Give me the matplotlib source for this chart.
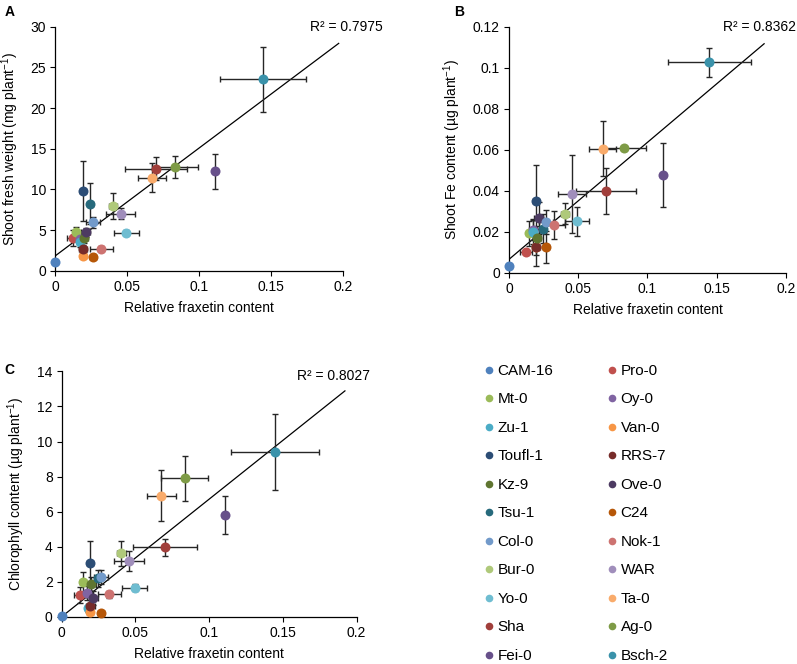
"""
plot.py — fraxetin content vs shoot growth / Fe / chlorophyll across accessions.

Three scatter panels (A, B, C) with x/y error bars and a linear trendline,
plus a shared two-column legend in the lower-right corner.
"""

import matplotlib
matplotlib.use('Agg')
import matplotlib.pyplot as plt
from matplotlib.lines import Line2D

plt.rcParams['font.family'] = ['Liberation Sans', 'DejaVu Sans']
plt.rcParams['mathtext.fontset'] = 'custom'
plt.rcParams['mathtext.rm'] = 'Liberation Sans'
plt.rcParams['mathtext.it'] = 'Liberation Sans:italic'

# ── Data ──────────────────────────────────────────────────────────────────────

accessions = ['CAM-16', 'Pro-0', 'Mt-0', 'Oy-0', 'Zu-1', 'Van-0',
              'Toufl-1', 'RRS-7', 'Kz-9', 'Ove-0', 'Tsu-1', 'C24',
              'Col-0', 'Nok-1', 'Bur-0', 'WAR', 'Yo-0', 'Ta-0',
              'Sha', 'Ag-0', 'Fei-0', 'Bsch-2']

colours = ['#4F81BD', '#C0504D', '#9BBB59', '#8064A2', '#4BACC6', '#F79646',
           '#2C4D75', '#772C2A', '#5F7530', '#4D3B62', '#276A7C', '#B65708',
           '#729ACA', '#CD7371', '#AFC97A', '#A08EBB', '#6FBDD1', '#F9AB6B',
           '#A13F3B', '#7E9B46', '#67508A', '#3A92AA']

# relative fraxetin content (shared x)
fraxetin     = [0.0, 0.0123, 0.0147, 0.0175, 0.0177, 0.0193,
                0.0193, 0.0194, 0.0201, 0.0214, 0.0246, 0.0266,
                0.0266, 0.0323, 0.0403, 0.0456, 0.0494, 0.0676,
                0.0701, 0.0834, 0.1110, 0.1447]
fraxetin_err = [0.0, 0.004, 0.002, 0.003, 0.002, 0.002,
                0.002, 0.003, 0.003, 0.003, 0.002, 0.002,
                0.005, 0.008, 0.003, 0.0099, 0.0087, 0.0097,
                0.0216, 0.0158, 0.001, 0.030]

# A — shoot fresh weight (mg plant-1)
fresh_weight     = [1.1, 4.0, 4.7, 3.9, 3.5, 1.85,
                    9.8, 2.7, 4.05, 4.7, 8.25, 1.72,
                    5.95, 2.7, 8.0, 7.0, 4.65, 11.45,
                    12.55, 12.7, 12.2, 23.55]
fresh_weight_err = [0.2, 1.0, 0.7, 0.5, 0.6, 0.3,
                    3.7, 0.5, 0.6, 0.6, 2.5, 0.3,
                    0.7, 0.3, 1.6, 0.7, 0.3, 1.8,
                    1.4, 1.35, 2.2, 4.0]

# B — shoot Fe content (µg plant-1)
fe_content     = [0.0034, 0.0099, 0.0192, 0.0208, 0.0200, 0.0125,
                  0.0348, 0.0124, 0.0169, 0.0267, 0.0215, 0.0124,
                  0.0247, 0.0231, 0.0288, 0.0385, 0.0250, 0.0605,
                  0.0400, 0.0610, 0.0476, 0.1026]
fe_content_err = [0.0005, 0.001, 0.006, 0.005, 0.006, 0.004,
                  0.0177, 0.009, 0.006, 0.008, 0.007, 0.0078,
                  0.006, 0.0068, 0.005, 0.019, 0.0072, 0.0133,
                  0.0112, 0.001, 0.0155, 0.0072]

# C — chlorophyll content (µg plant-1)
chlorophyll     = [0.05, 1.24, 1.96, 1.33, 0.48, 0.29,
                   3.04, 0.63, 1.85, 1.05, 2.19, 0.19,
                   2.28, 1.27, 3.61, 3.2, 1.65, 6.9,
                   3.96, 7.9, 5.8, 9.42]
chlorophyll_err = [0.05, 0.45, 0.6, 0.4, 0.2, 0.15,
                   1.3, 0.3, 0.4, 0.4, 0.5, 0.1,
                   0.4, 0.2, 0.7, 0.57, 0.2, 1.45,
                   0.5, 1.27, 1.1, 2.16]

# trendlines: (slope, intercept, x_end), R² label
trend_a = (132.6, 1.8, 0.1972)
trend_b = (0.571, 0.0065, 0.1842)
trend_c = (67.1, 0.0, 0.1921)
r2_labels = ['R² = 0.7975', 'R² = 0.8362', 'R² = 0.8027']

x_ticks = [0, 0.05, 0.1, 0.15, 0.2]
y_ticks_a = [0, 5, 10, 15, 20, 25, 30]
y_ticks_b = [0, 0.02, 0.04, 0.06, 0.08, 0.1, 0.12]
y_ticks_c = [0, 2, 4, 6, 8, 10, 12, 14]

# legend order (two columns, row-major in the original)
legend_left  = accessions[0::2]
legend_right = accessions[1::2]


# ── Panel drawing ─────────────────────────────────────────────────────────────

def draw_panel(ax, y, yerr, trend, r2, r2_pos, yticks, ylabel):
    slope, icpt, x_end = trend
    ax.plot([0, x_end], [icpt, icpt + slope * x_end],
            color='black', linewidth=0.9, zorder=1.5)

    for xi, xe, yi, ye in zip(fraxetin, fraxetin_err, y, yerr):
        ax.errorbar(xi, yi, xerr=xe if xe > 0 else None, yerr=ye,
                    fmt='none', ecolor='#262626', elinewidth=1.0,
                    capsize=2.5, capthick=1.0, zorder=2)
    for xi, yi, c in zip(fraxetin, y, colours):
        ax.plot(xi, yi, 'o', color=c, markersize=7.2, markeredgewidth=0,
                zorder=3, clip_on=False)

    ax.text(r2_pos[0], r2_pos[1], r2, transform=ax.transAxes,
            ha='right', va='center', fontsize=10)

    ax.set_xlim(0, 0.2)
    ax.set_ylim(yticks[0], yticks[-1])
    ax.set_xticks(x_ticks)
    ax.set_xticklabels([f'{t:g}' for t in x_ticks])
    ax.set_yticks(yticks)
    ax.set_yticklabels([f'{t:g}' for t in yticks])
    ax.tick_params(direction='out', length=3.5, width=0.8, labelsize=10,
                   color='black', pad=3)
    ax.spines['top'].set_visible(False)
    ax.spines['right'].set_visible(False)
    for s in ('left', 'bottom'):
        ax.spines[s].set_linewidth(0.9)
    ax.set_xlabel('Relative fraxetin content', fontsize=10, labelpad=5)
    ax.set_ylabel(ylabel, fontsize=10, labelpad=7)


# ── Main ──────────────────────────────────────────────────────────────────────

fig = plt.figure(figsize=(7.97, 6.64), dpi=100)

ax_a = fig.add_axes([0.069, 0.5923, 0.361, 0.3675])
ax_b = fig.add_axes([0.6386, 0.5893, 0.3476, 0.3705])
ax_c = fig.add_axes([0.0774, 0.0712, 0.370, 0.3694])

draw_panel(ax_a, fresh_weight, fresh_weight_err, trend_a, r2_labels[0],
           (1.139, 1.0), y_ticks_a, r'Shoot fresh weight (mg plant$^{-1}$)')
draw_panel(ax_b, fe_content, fe_content_err, trend_b, r2_labels[1],
           (1.036, 1.0), y_ticks_b, r'Shoot Fe content (µg plant$^{-1}$)')
draw_panel(ax_c, chlorophyll, chlorophyll_err, trend_c, r2_labels[2],
           (1.045, 0.981), y_ticks_c, r'Chlorophyll content (µg plant$^{-1}$)')

fig.text(0.006, 0.992, 'A', fontsize=10, fontweight='bold', va='top')
fig.text(0.570, 0.992, 'B', fontsize=10, fontweight='bold', va='top')
fig.text(0.006, 0.453, 'C', fontsize=10, fontweight='bold', va='top')

# legend: left column then right column (matplotlib fills column-wise)
handles = []
for name in legend_left + legend_right:
    c = colours[accessions.index(name)]
    handles.append(Line2D([], [], marker='o', linestyle='none', color=c,
                          markersize=5.5, markeredgewidth=0, label=name))
fig.legend(handles=handles, ncol=2, loc='upper left',
           bbox_to_anchor=(0.609, 0.452), frameon=False, fontsize=11,
           handlelength=0.5, handletextpad=0.3, labelspacing=0.95,
           columnspacing=3.6, borderaxespad=0, borderpad=0)

fig.savefig('out.png', dpi=100)
